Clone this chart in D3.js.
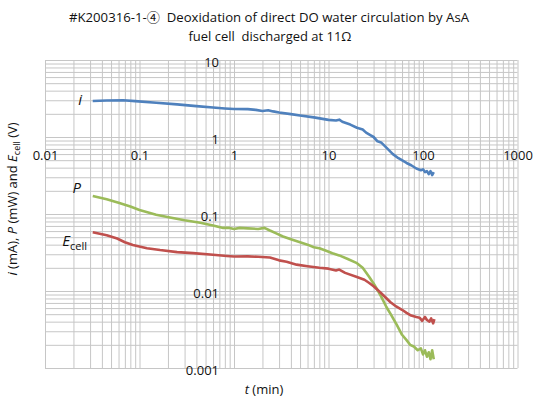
<!DOCTYPE html>
<html>
<head>
<meta charset="utf-8">
<script src="https://cdn.jsdelivr.net/npm/d3@7"></script>
<style>
  html, body { margin: 0; padding: 0; background: #fff; }
  svg { display: block; font-family: "Open Sans", "DejaVu Sans", sans-serif; }
  .keep-space { white-space: pre; }
</style>
</head>
<body>
<svg id="chart" width="534" height="398"></svg>
<script>
// Discharge time (min) and measured values for each series
const iTime = [0.032,0.045,0.067,0.09,0.15,0.25,0.4,0.6,0.8,1.0,1.4,1.7,2.0,2.3,2.6,3.0,4,5,7,10,12,13,14,17,20,23,25,28,30,33,36,40,48,55,67,75,85,95,100,105,110,115,120,125,130];
const iValues = [2.94,2.98,3.0,2.92,2.78,2.65,2.52,2.42,2.35,2.31,2.30,2.25,2.18,2.22,2.15,2.08,1.98,1.90,1.80,1.67,1.64,1.68,1.58,1.45,1.32,1.25,1.14,1.05,1.0,0.88,0.85,0.75,0.60,0.53,0.46,0.43,0.39,0.37,0.38,0.35,0.36,0.33,0.36,0.32,0.35];

const pTime = [0.032,0.045,0.06,0.08,0.1,0.15,0.21,0.3,0.44,0.6,0.77,0.9,1.0,1.15,1.4,1.8,2.1,2.4,2.8,3.3,4,5,6,7,8,9.6,11,13,16,20,23,27,30,33,36,41,46,53,60,67,73,80,88,95,100,105,110,115,120,125,130];
const pValues = [0.171,0.155,0.14,0.125,0.113,0.098,0.090,0.083,0.077,0.071,0.066,0.066,0.064,0.066,0.065,0.064,0.066,0.061,0.056,0.051,0.047,0.043,0.040,0.037,0.036,0.033,0.031,0.029,0.026,0.023,0.020,0.0152,0.0125,0.0103,0.0085,0.0062,0.0049,0.0036,0.0027,0.0023,0.0020,0.0019,0.0017,0.0018,0.0015,0.0017,0.0014,0.0016,0.0013,0.0017,0.0013];

const eTime = [0.032,0.045,0.058,0.07,0.085,0.12,0.165,0.25,0.37,0.6,0.84,1.0,1.4,1.8,2.4,3,3.6,4.6,6,8,10,12,13,15,20,24,27,30,35,40,45,52,60,67,75,85,92,98,105,110,117,122,128,132];
const eValues = [0.058,0.053,0.048,0.043,0.0395,0.036,0.034,0.032,0.031,0.0295,0.0285,0.028,0.0282,0.0278,0.0272,0.025,0.024,0.022,0.021,0.020,0.0195,0.0185,0.0190,0.0172,0.0152,0.0140,0.0127,0.0115,0.0097,0.0083,0.0072,0.0063,0.0057,0.0052,0.0048,0.0046,0.0045,0.0041,0.0046,0.0042,0.0040,0.0044,0.0038,0.0043];

// Axis ranges and labelled decades
const xDomain = [0.01, 1000];
const yDomain = [0.001, 10];
const xTickLabels = [0.01, 0.1, 1, 10, 100, 1000];
const yTickLabels = [0.001, 0.01, 0.1, 1, 10];

const svg = d3.select("#chart");
const plotLeft = 45, plotRight = 517.5, plotTop = 60, plotBottom = 368;

const x = d3.scaleLog().domain(xDomain).range([plotLeft, plotRight]);
const y = d3.scaleLog().domain(yDomain).range([plotBottom, plotTop]);

// Grid: every 1..9 multiple in each decade
const gridColor = "#c6c6c6";
const xGrid = svg.append("g")
  .attr("transform", `translate(0,${plotBottom})`)
  .call(d3.axisBottom(x).tickValues(x.ticks()).tickSize(-(plotBottom - plotTop)).tickFormat(""));
const yGrid = svg.append("g")
  .attr("transform", `translate(${plotLeft},0)`)
  .call(d3.axisLeft(y).tickValues(y.ticks()).tickSize(-(plotRight - plotLeft)).tickFormat(""));
[xGrid, yGrid].forEach(g => {
  g.select(".domain").remove();
  g.selectAll(".tick line").attr("stroke", gridColor).attr("stroke-width", 1);
});

const fmt = d => d3.format("~g")(d);

// Tick labels: x axis crosses at y = 1, y axis crosses at x = 1
const xLab = svg.append("g")
  .attr("transform", `translate(0,${y(1)})`)
  .call(d3.axisBottom(x).tickValues(xTickLabels).tickSize(0).tickPadding(14).tickFormat(fmt));
const yLab = svg.append("g")
  .attr("transform", `translate(${x(1)},0)`)
  .call(d3.axisLeft(y).tickValues(yTickLabels).tickSize(0).tickPadding(15).tickFormat(fmt));
[xLab, yLab].forEach(g => {
  g.select(".domain").remove();
  g.selectAll("text").attr("font-size", 13).attr("fill", "#111")
    .attr("font-family", "'Open Sans', sans-serif");
});
yLab.selectAll("text").attr("dy", "0.5em");

// Series lines
const line = d3.line().x(d => x(d[0])).y(d => y(d[1]));
const series = [
  { t: pTime, v: pValues, color: "#9BBB59" },
  { t: eTime, v: eValues, color: "#C0504D" },
  { t: iTime, v: iValues, color: "#4F81BD" }
];
series.forEach(s => {
  svg.append("path")
    .datum(s.t.map((t, k) => [t, s.v[k]]))
    .attr("fill", "none")
    .attr("stroke", s.color)
    .attr("stroke-width", 2.6)
    .attr("stroke-linejoin", "round")
    .attr("d", line);
});

// Series names beside the start of each curve
const nameFont = "'Open Sans', sans-serif";
svg.append("text").attr("x", 82).attr("y", 105).attr("text-anchor", "end")
  .attr("font-size", 15).attr("font-style", "italic").attr("font-family", nameFont).attr("fill", "#111").text("i");
svg.append("text").attr("x", 81).attr("y", 193).attr("text-anchor", "end")
  .attr("font-size", 15).attr("font-style", "italic").attr("font-family", nameFont).attr("fill", "#111").text("P");
const eName = svg.append("text").attr("x", 87).attr("y", 246).attr("text-anchor", "end")
  .attr("font-family", nameFont).attr("fill", "#111");
eName.append("tspan").attr("font-size", 15).attr("font-style", "italic").text("E");
eName.append("tspan").attr("font-size", 11).attr("dy", 4).text("cell");

// Title
const title = svg.append("g").attr("fill", "#111").attr("font-size", 13)
  .attr("font-family", "'Open Sans', 'Noto Sans CJK JP', sans-serif").attr("text-anchor", "middle");
title.append("text").attr("class", "keep-space").attr("x", 269).attr("y", 22)
  .attr("textLength", 400).attr("lengthAdjust", "spacingAndGlyphs")
  .text("#K200316-1-④  Deoxidation of direct DO water circulation by AsA");
title.append("text").attr("class", "keep-space").attr("x", 270).attr("y", 41)
  .attr("textLength", 163).attr("lengthAdjust", "spacingAndGlyphs")
  .text("fuel cell  discharged at 11Ω");

// Axis titles
const xt = svg.append("text").attr("x", 264).attr("y", 394).attr("text-anchor", "middle")
  .attr("font-size", 13).attr("fill", "#111");
xt.append("tspan").attr("font-style", "italic").text("t");
xt.append("tspan").text(" (min)");

const yt = svg.append("text").attr("transform", "translate(17,199) rotate(-90)")
  .attr("text-anchor", "middle").attr("font-size", 13).attr("fill", "#111");
yt.append("tspan").attr("font-style", "italic").text("i");
yt.append("tspan").text(" (mA), ");
yt.append("tspan").attr("font-style", "italic").text("P");
yt.append("tspan").text(" (mW) and ");
yt.append("tspan").attr("font-style", "italic").text("E");
yt.append("tspan").attr("font-size", 9).attr("dy", 3).text("cell");
yt.append("tspan").attr("dy", -3).text(" (V)");
</script>
</body>
</html>
